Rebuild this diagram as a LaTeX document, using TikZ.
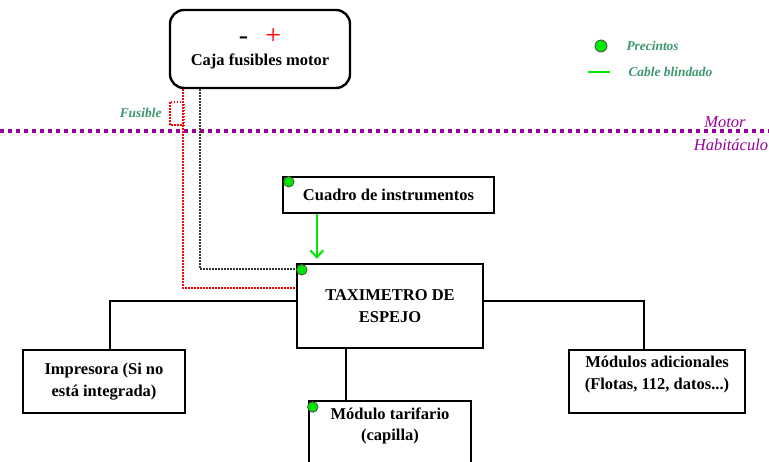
\documentclass[tikz,border=0pt]{standalone}
\usepackage{fontspec}
\setmainfont{Liberation Serif}
\usetikzlibrary{arrows.meta,positioning}
\definecolor{sealgreen}{RGB}{0,230,0}
\definecolor{notegreen}{RGB}{60,150,110}
\definecolor{zonepurple}{RGB}{153,0,153}
\tikzset{
  boxtext/.style={align=center,font=\bfseries\fontsize{16.5}{21.5}\selectfont},
  box/.style={draw,line width=2.4pt,inner sep=0pt,boxtext},
  seal/.style={circle,draw=black!70,fill=sealgreen,line width=0.8pt,minimum size=10.5pt,inner sep=0pt},
  note/.style={text=notegreen,font=\bfseries\itshape\fontsize{13.4}{15}\selectfont},
  zonetxt/.style={text=zonepurple,font=\itshape\fontsize{16.5}{18}\selectfont},
  wire/.style={line width=2pt},
  shield/.style={draw=sealgreen,line width=2pt},
  ground/.style={draw=black!80,line width=1.5pt,dash pattern=on 1.5pt off 1.5pt},
  fused/.style={draw=red,line width=1.5pt,dash pattern=on 1.5pt off 1.5pt},
  zone/.style={draw=zonepurple,line width=4pt,dash pattern=on 4pt off 4pt}
}
\begin{document}
\begin{tikzpicture}[x=1pt,y=-1pt,>={Straight Barb[length=7pt,width=13pt,line width=2pt]}]
  \useasboundingbox (0,0) rectangle (769,461);
  \node[box,rounded corners=14pt,minimum width=180pt,minimum height=78pt]	(caja)	at (260,49)	{{\fontsize{28}{28}\selectfont\mdseries -\hspace{17pt}\textcolor{red}{+}}\\[-1pt]Caja fusibles motor};
  \node[box,minimum width=211pt,minimum height=36pt]	(cuadro)	at (388.5,195)	{Cuadro de instrumentos};
  \node[box,minimum width=186pt,minimum height=84pt]	(taxi)	at (390,306)	{TAXIMETRO DE\\ESPEJO};
  \node[box,minimum width=162pt,minimum height=63pt]	(impr)	at (104,381.5)	{Impresora (Si no\\está integrada)};
  \node[box,minimum width=176pt,minimum height=63pt,label={[anchor=north,yshift=-4pt,boxtext]north:Módulos adicionales\\(Flotas, 112, datos...)}]	(modad)	at (657,381.5)	{};
  \node[box,minimum width=162pt,minimum height=90pt,anchor=north,label={[anchor=north,yshift=-4pt,boxtext]north:Módulo tarifario\\(capilla)}]	(tarif)	at (390,400)	{};

  \node[seal]	(sealcuadro)	at ([xshift=7pt,yshift=-6pt]cuadro.north west)	{};
  \node[seal]	(sealtaxi)	at ([xshift=6pt,yshift=-7pt]taxi.north west)	{};
  \node[seal]	(sealtarif)	at ([xshift=5pt,yshift=-7pt]tarif.north west)	{};

  \draw[zone] (0,131) -- (769,131);
  \node[zonetxt]	(motor)	at (725,122)	{Motor};
  \node[zonetxt]	(habit)	at (731,145)	{Habitáculo};

  \node[seal,minimum size=12pt]	(keyseal)	at (601,46)	{};
  \node[note,anchor=west]	(keysealtxt)	at (623,46)	{Precintos};
  \coordinate	(keya)	at (588,72);
  \coordinate	(keyb)	at (610,72);
  \draw[shield] (keya) -- (keyb);
  \node[note,anchor=west]	(keyshieldtxt)	at (625,72)	{Cable blindado};

  \draw[fused] (170,102) rectangle (184,125);
  \node[note,anchor=east]	(fuslbl)	at (165,113)	{Fusible};

  \draw[ground] ([xshift=31pt]caja.south west) |- ([yshift=-6pt]taxi.north west);
  \draw[fused] ([xshift=14pt]caja.south west) |- ([yshift=-25pt]taxi.north west);
  \draw[shield,->,shorten >=4pt] ([xshift=35pt]cuadro.south west) -- ([xshift=21pt]taxi.north west);
  \draw[wire] ([yshift=5pt]taxi.west) -| ([xshift=6pt]impr.north);
  \draw[wire] ([yshift=5pt]taxi.east) -| ([xshift=-13pt]modad.north);
  \draw[wire] ([xshift=-44pt]taxi.south) -- ([xshift=-44pt]tarif.north);
\end{tikzpicture}
\end{document}
